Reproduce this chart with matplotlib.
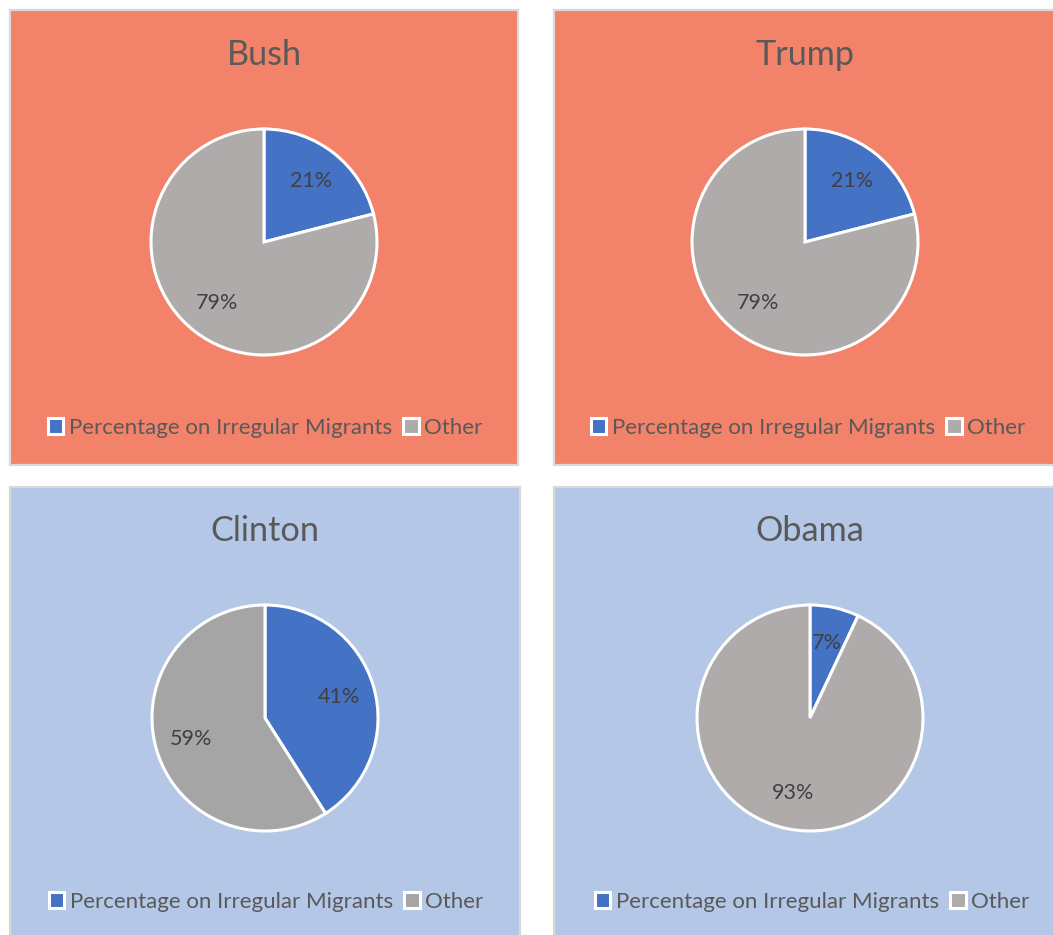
import matplotlib
matplotlib.use("Agg")
import matplotlib.pyplot as plt

# Share of spending on irregular migrants by administration
presidents = ["Bush", "Trump", "Clinton", "Obama"]
irregular_pct = [21, 21, 41, 7]
other_pct = [79, 79, 59, 93]
series_labels = ["Percentage on Irregular Migrants", "Other"]

W, H = 1053, 935
DPI = 100
plt.rcParams["font.family"] = ["Lato", "DejaVu Sans"]

ORANGE_BG = "#F3826A"
BLUE_BG = "#B4C7E7"
BORDER = "#D9D9D9"
SLICE_BLUE = "#4472C4"
TEXT_GREY = "#595959"
LABEL_GREY = "#404040"

# panel boxes in pixels: (left, top, right, bottom)
boxes = [(10, 10, 518, 465), (554, 10, 1060, 465),
         (10, 487, 520, 945), (554, 487, 1060, 945)]
backgrounds = [ORANGE_BG, ORANGE_BG, BLUE_BG, BLUE_BG]
other_colors = ["#AFABAB", "#AFABAB", "#A5A5A5", "#AFABAB"]
pie_centers = [(264, 242), (805, 242), (265, 718), (810, 718)]
title_pos = [(264, 55), (805, 55), (265, 531), (810, 531)]
legend_pos = [(265, 428), (808, 428), (266, 902), (812, 902)]
RADIUS = 113

fig = plt.figure(figsize=(W / DPI, H / DPI), dpi=DPI)
fig.patch.set_facecolor("white")


def fx(x):
    return x / W


def fy(y):
    return 1 - y / H


for i, name in enumerate(presidents):
    # panel background with thin grey frame
    l, t, r, b = boxes[i]
    bg = fig.add_axes([fx(l), fy(b), (r - l) / W, (b - t) / H], zorder=0)
    bg.set_facecolor(backgrounds[i])
    bg.set_xticks([])
    bg.set_yticks([])
    for sp in bg.spines.values():
        sp.set_color(BORDER)
        sp.set_linewidth(1.6)

    cx, cy = pie_centers[i]
    pad = 1.03
    half = RADIUS * pad
    ax = fig.add_axes([fx(cx - half), fy(cy + half), 2 * half / W, 2 * half / H],
                      zorder=1)
    ax.set_facecolor("none")
    wedges, _, autotexts = ax.pie(
        [irregular_pct[i], other_pct[i]],
        colors=[SLICE_BLUE, other_colors[i]],
        startangle=90, counterclock=False,
        autopct=lambda p: f"{p:.0f}%", pctdistance=0.68,
        wedgeprops=dict(edgecolor="white", linewidth=2.2),
        textprops=dict(color=LABEL_GREY, fontsize=15.5),
    )
    ax.set_xlim(-pad, pad)
    ax.set_ylim(-pad, pad)
    ax.set_aspect("equal")
    ax.axis("off")

    tx, ty = title_pos[i]
    fig.text(fx(tx), fy(ty), name, ha="center", va="center",
             fontsize=24.7, color=TEXT_GREY, zorder=2)

    lx, ly = legend_pos[i]
    leg = fig.legend(wedges, series_labels, loc="center",
                     bbox_to_anchor=(fx(lx), fy(ly)), ncol=2, frameon=False,
                     fontsize=16, labelcolor=TEXT_GREY,
                     handlelength=0.7, handleheight=0.7, handletextpad=0.25,
                     columnspacing=0.5, borderaxespad=0)
    leg.set_zorder(2)

fig.savefig("out.png", dpi=DPI, facecolor="white")
